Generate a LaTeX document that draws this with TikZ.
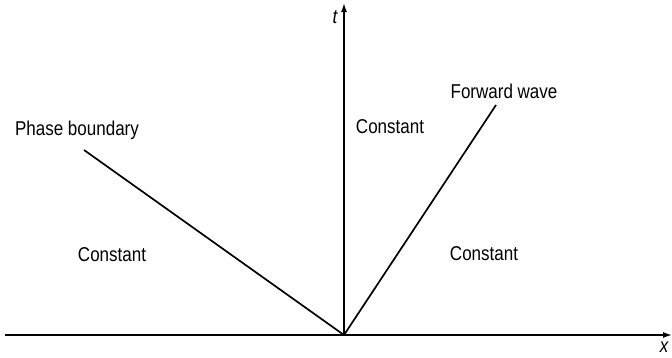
\documentclass[tikz,border=0pt]{standalone}
\usepackage{fontspec}
\setmainfont{Liberation Sans}[FakeStretch=0.85]
\usetikzlibrary{arrows.meta}
\begin{document}
\begin{tikzpicture}[x=1pt,y=-1pt,
  axis/.style={line width=1.5pt,-{Latex[length=9pt,width=6pt]}},
  wave/.style={line width=1.7pt},
  lbl/.style={font=\fontsize{20}{22}\selectfont,inner sep=0pt},
  axlbl/.style={font=\fontsize{20}{22}\selectfont\itshape,inner sep=0pt}]
\useasboundingbox (0,0) rectangle (672,357);
\coordinate (O) at (344,335);
\coordinate (xs) at (5,335);
\coordinate (xe) at (672,335);
\coordinate (te) at (344,3);
\coordinate (P) at (84,150);
\coordinate (F) at (496,105);
\draw[axis] (xs) -- (xe);
\draw[axis] (O) -- (te);
\draw[wave] (O) -- (P);
\draw[wave] (O) -- (F);
\node[axlbl] (tl) at (335,17) {t};
\node[axlbl] (xl) at (664,347) {x};
\node[lbl] (pb) at (77,130) {Phase boundary};
\node[lbl] (fw) at (504,91) {Forward wave};
\node[lbl] (c1) at (112,255) {Constant};
\node[lbl] (c2) at (390,127) {Constant};
\node[lbl] (c3) at (484,254) {Constant};
\end{tikzpicture}
\end{document}
